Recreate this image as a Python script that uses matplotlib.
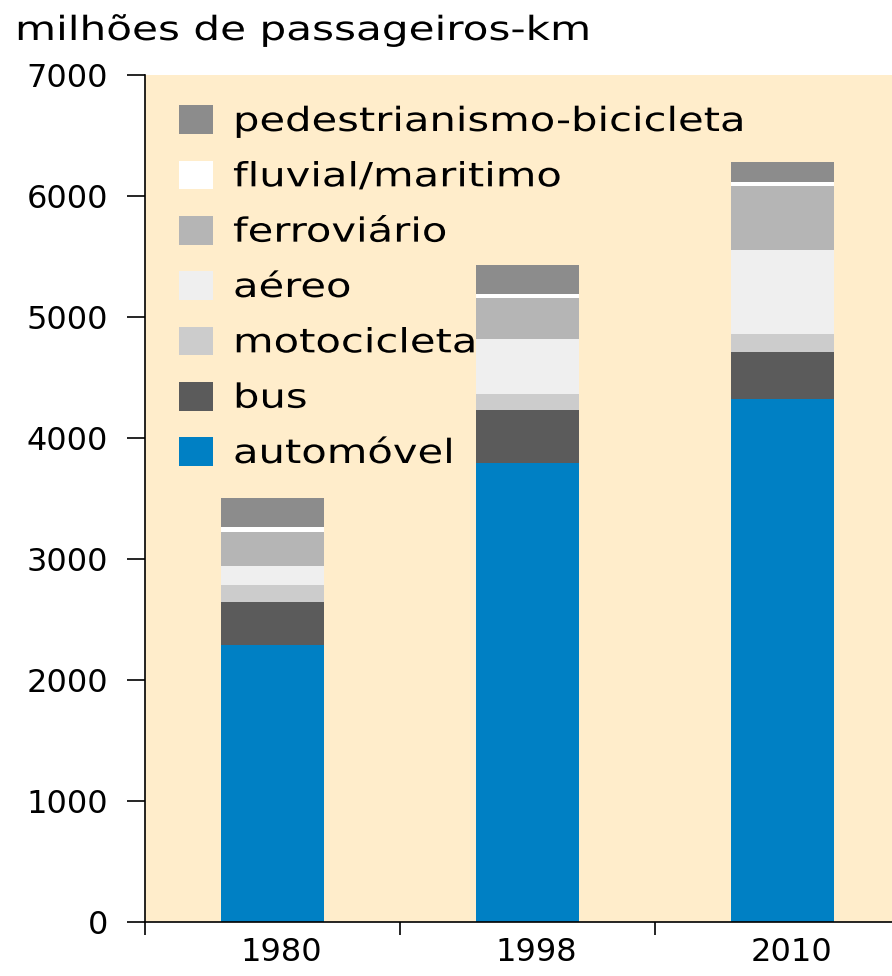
import matplotlib
matplotlib.use("Agg")
import matplotlib.pyplot as plt
import matplotlib.transforms as mtransforms
import matplotlib.patheffects as pe
import numpy as np

plt.rcParams['font.family'] = ['DejaVu Sans']

years = ["1980", "1998", "2010"]
categories = ["automóvel", "bus", "motocicleta", "aéreo", "ferroviário",
              "fluvial/maritimo", "pedestrianismo-bicicleta"]
automovel = [2290, 3790, 4320]
bus = [357, 440, 390]
motocicleta = [138, 130, 150]
aereo = [157, 455, 690]
ferroviario = [284, 340, 530]
fluvial = [41, 35, 35]
pedestre = [235, 240, 165]
series = [automovel, bus, motocicleta, aereo, ferroviario, fluvial, pedestre]
colors = ["#0080C4", "#5B5B5B", "#CCCCCC", "#EFEFEF", "#B5B5B5", "#FFFFFF", "#8C8C8C"]
yticks = [0, 1000, 2000, 3000, 4000, 5000, 6000, 7000]


class HStretch(pe.AbstractPathEffect):
    """Widen text horizontally (the reference font is wider than DejaVu)."""
    def __init__(self, sx):
        super().__init__()
        self.sx = sx

    def draw_path(self, renderer, gc, tpath, affine, rgbFace=None):
        renderer.draw_path(gc, tpath, mtransforms.Affine2D().scale(self.sx, 1) + affine, rgbFace)


fig = plt.figure(figsize=(8.92, 9.76), dpi=100)
ax = fig.add_axes([145/892, 54/976, 1 - 145/892, (922-75)/976])
ax.set_facecolor("#FFEDCB")

x = np.arange(len(years))
bottom = np.zeros(len(years))
handles = []
for vals, col, lab in zip(series, colors, categories):
    b = ax.bar(x, vals, width=0.405, bottom=bottom, color=col, label=lab, linewidth=0)
    handles.append(b)
    bottom += np.array(vals)

ax.set_yticks(yticks)
ax.set_yticklabels([str(v) for v in yticks], fontsize=23)
ax.tick_params(axis='y', length=13, width=1.2, pad=13.5)

ax.set_xticks([-0.5, 0.5, 1.5, 2.5])
ax.set_xticklabels([])
ax.tick_params(axis='x', which='major', length=9.5, width=1.2)
ax.set_xticks(x, minor=True)
ax.set_xticklabels(years, minor=True, fontsize=23)
ax.tick_params(axis='x', which='minor', length=0, pad=11)
offset = mtransforms.ScaledTranslation(9/100, 0, fig.dpi_scale_trans)
for lbl in ax.get_xticklabels(minor=True):
    lbl.set_transform(lbl.get_transform() + offset)

ax.set_ylim(0, 7000)
ax.set_xlim(-0.5, -0.5 + (892 - 145) / 255)

for s in ["top", "right"]:
    ax.spines[s].set_visible(False)
ax.spines["left"].set_linewidth(1.2)
ax.spines["bottom"].set_linewidth(1.2)

leg = ax.legend(handles[::-1], categories[::-1], loc="upper left",
                bbox_to_anchor=(34/747, 1 - 30/847), frameon=False, fontsize=24,
                handlelength=1.02, handleheight=0.95, handletextpad=0.6,
                labelspacing=0.67, borderaxespad=0, borderpad=0)
for t in leg.get_texts():
    t.set_path_effects([HStretch(1.25)])

title = fig.text(15/892, 1 - 30/976, "milhões de passageiros-km", fontsize=24,
                 ha="left", va="center")
title.set_path_effects([HStretch(1.265)])

fig.savefig("out.png", dpi=100)
